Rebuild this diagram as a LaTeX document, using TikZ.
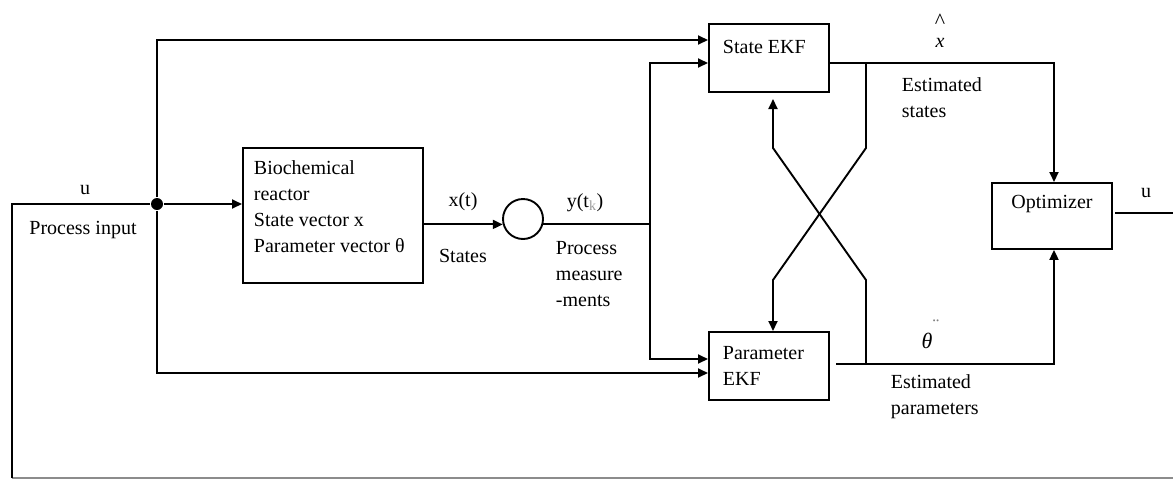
\documentclass[tikz,border=0pt]{standalone}
\usepackage{fontspec}
\setmainfont{Liberation Serif}
\usetikzlibrary{arrows.meta}
\begin{document}
\begin{tikzpicture}[x=1pt,y=-1pt,line width=1.9pt,
  box/.style={draw,rectangle,inner sep=0pt,anchor=north west},
  arr/.style={-{Triangle[length=10pt,width=9pt]}},
  lbl/.style={font=\fontsize{20}{26}\selectfont,inner sep=0pt},
  para/.style={lbl,align=left,anchor=north west}
]
\useasboundingbox (0,0) rectangle (1173,480);
% blocks
\node[box,minimum width=180,minimum height=135] (bio) at (242,147) {};
\node[box,minimum width=120,minimum height=68] (sekf) at (708,23) {};
\node[box,minimum width=120,minimum height=68] (pekf) at (708,331) {};
\node[box,minimum width=120,minimum height=66] (opt) at (991,182) {};
\node[draw,circle,inner sep=0pt,minimum size=40] (meas) at (523,219) {};
\node[circle,fill,inner sep=0pt,minimum size=12] (dot) at (157,204) {};
% block texts
\node[para] (bioT) at (253,160) {Biochemical\\reactor\\State vector x\\Parameter vector θ};
\node[lbl,anchor=west] (sekfT) at (722,47) {State EKF};
\node[para] (pekfT) at (722,345) {Parameter\\EKF};
\node[lbl] (optT) at (1052,204) {Optimizer};
% coordinates
\coordinate (fbL) at (12,204);
\coordinate (fbB) at (12,478);
\coordinate (fbR) at (1173,478);
\coordinate (topL) at (157,40);
\coordinate (botL) at (157,373);
\coordinate (mT) at (650,63);
\coordinate (mB) at (650,359);
\coordinate (sj) at (866,63);
\coordinate (sk) at (866,148);
\coordinate (pk2) at (773,280);
\coordinate (sOut) at (1054,63);
\coordinate (pStart) at (836,364);
\coordinate (pOut) at (1054,364);
\coordinate (pj) at (866,364);
\coordinate (pk) at (866,280);
\coordinate (sk2) at (773,148);
\coordinate (sTip) at (773,99);
\coordinate (oStart) at (1115,213);
\coordinate (oEnd) at (1173,213);
% connectors
\draw[black!45] (fbB) -- (fbR);
\draw (fbB) -- (fbL) -- (dot);
\draw[arr] (dot) -- (bio.west |- dot);
\draw[arr] (dot) -- (topL) -- (sekf.west |- topL);
\draw[arr] (dot) -- (botL) -- (pekf.west |- botL);
\draw[arr] (bio.east |- meas.195) -- (meas.195);
\draw (meas.345) -- (meas.345 -| mT);
\draw[arr] (meas.345 -| mT) -- (mT) -- (sekf.west |- mT);
\draw[arr] (meas.345 -| mT) -- (mB) -- (pekf.west |- mB);
\draw[arr] (sekf.east |- sOut) -- (sOut) -- (sOut |- opt.north);
\draw[arr] (sj) -- (sk) -- (pk2) -- (pk2 |- pekf.north);
\draw[arr] (pStart) -- (pOut) -- (pOut |- opt.south);
\draw[arr] (pj) -- (pk) -- (sk2) -- (sTip);
\draw (oStart) -- (oEnd);
% labels
\node[lbl] (uIn) at (85,190) {u};
\node[lbl] (pin) at (83,230) {Process input};
\node[lbl] (xt) at (463,202) {x(t)};
\node[lbl] (stT) at (463,256) {States};
\node[lbl] (yt) at (585,203) {y(t\textsubscript{\textcolor{black!40}{k}})};
\node[para] (pm) at (555,240) {Process\\measure\\-ments};
\node[lbl,font=\fontsize{22}{22}\selectfont,anchor=base] (xhat) at (940,28) {\textasciicircum};
\node[lbl] (xh) at (940,43) {\textit{x}};
\node[para] (es) at (901,77) {Estimated\\states};
\node[lbl,font=\fontsize{22}{26}\selectfont] (th) at (927,341) {\textit{θ}};
\node[lbl,text=black!50] (thd) at (936,326) {¨};
\node[para] (ep) at (890,374) {Estimated\\parameters};
\node[lbl] (uOut) at (1146,193) {u};
\end{tikzpicture}
\end{document}
